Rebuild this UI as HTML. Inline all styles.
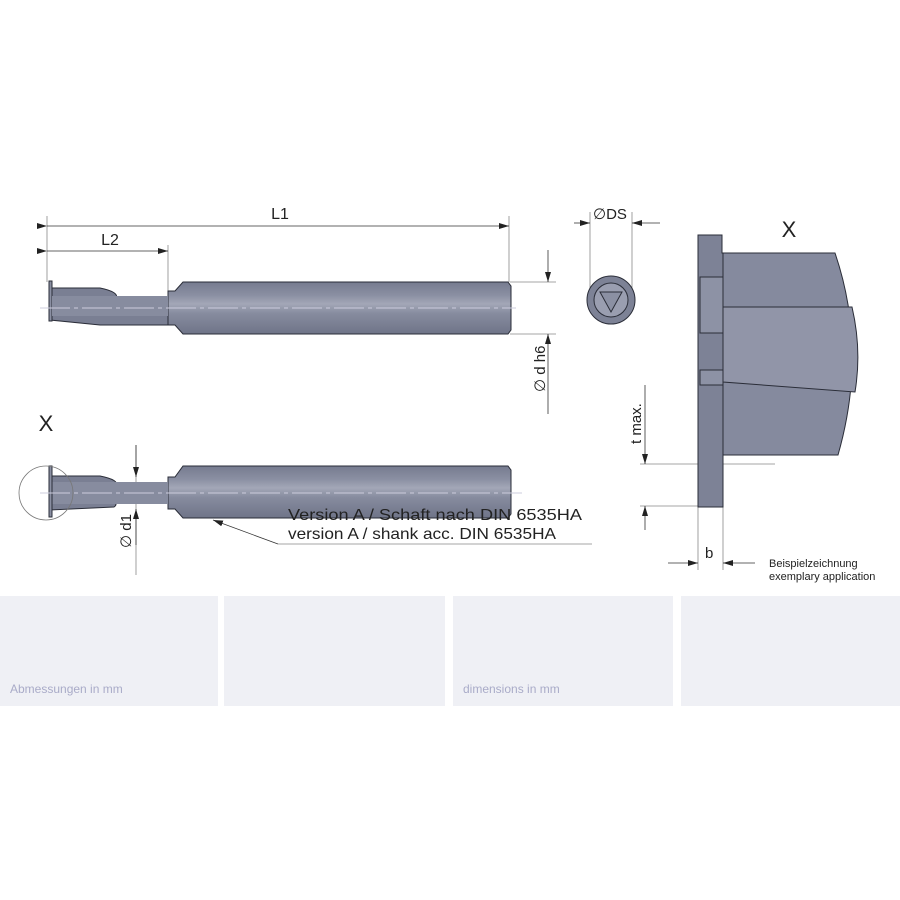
<!DOCTYPE html>
<html><head><meta charset="utf-8"><style>
html,body{margin:0;padding:0;background:#fff;}
.box{position:absolute;top:596px;height:110px;background:#eff0f5;}
.lbl{position:absolute;bottom:10px;left:10px;font:12px "Liberation Sans",sans-serif;color:#a9abc8;}
</style></head><body>
<svg width="900" height="900" style="position:absolute;left:0;top:0" xmlns="http://www.w3.org/2000/svg" font-family="Liberation Sans, sans-serif">
<defs>
<linearGradient id="sh" x1="0" y1="0" x2="0" y2="1">
<stop offset="0" stop-color="#767b8f"/><stop offset="0.25" stop-color="#8a8fa2"/><stop offset="0.42" stop-color="#a3a7b7"/><stop offset="0.6" stop-color="#878c9f"/><stop offset="1" stop-color="#6f7488"/></linearGradient>
<marker id="a" markerWidth="10" markerHeight="6" refX="10" refY="3" orient="auto" markerUnits="userSpaceOnUse"><path d="M0,0 L10,3 L0,6z" fill="#222"/></marker>
</defs>
<g stroke="#888" stroke-width="0.8" fill="none">
<line x1="47" y1="216" x2="47" y2="282"/><line x1="509" y1="216" x2="509" y2="282"/><line x1="168" y1="245" x2="168" y2="291"/>
<line x1="510" y1="282" x2="556" y2="282"/><line x1="510" y1="334" x2="556" y2="334"/>
<line x1="590" y1="212" x2="590" y2="290"/><line x1="632" y1="212" x2="632" y2="290"/>
<line x1="136" y1="445" x2="136" y2="575"/>
<line x1="723" y1="464" x2="775" y2="464"/><line x1="640" y1="464" x2="698" y2="464"/><line x1="640" y1="506" x2="698" y2="506"/>
<line x1="698" y1="507" x2="698" y2="570"/><line x1="723" y1="507" x2="723" y2="570"/>
<line x1="278" y1="544" x2="592" y2="544"/>
</g>
<g stroke="#333" stroke-width="0.8" fill="none">
<line x1="47" y1="226" x2="509" y2="226" marker-start="url(#a)" marker-end="url(#a)"/>
<line x1="47" y1="251" x2="168" y2="251" marker-start="url(#a)" marker-end="url(#a)"/>
<line x1="548" y1="250" x2="548" y2="282" marker-end="url(#a)"/>
<line x1="548" y1="414" x2="548" y2="334" marker-end="url(#a)"/>
<line x1="136" y1="445" x2="136" y2="477" marker-end="url(#a)"/>
<line x1="136" y1="545" x2="136" y2="509" marker-end="url(#a)"/>
<line x1="278" y1="544" x2="213" y2="520" marker-end="url(#a)"/>
<line x1="574" y1="223" x2="590" y2="223" marker-end="url(#a)"/>
<line x1="660" y1="223" x2="632" y2="223" marker-end="url(#a)"/>
<line x1="645" y1="385" x2="645" y2="464" marker-end="url(#a)"/>
<line x1="645" y1="530" x2="645" y2="506" marker-end="url(#a)"/>
<line x1="668" y1="563" x2="698" y2="563" marker-end="url(#a)"/>
<line x1="755" y1="563" x2="723" y2="563" marker-end="url(#a)"/>
</g>
<g stroke="#2a2d38" stroke-width="1">
<path d="M168,291 L175,291 L183,282 L508,282 L511,286 L511,330 L508,334 L183,334 L175,325 L168,325z" fill="url(#sh)"/>
<path d="M50,288 L100,288 Q120,292 116,299 Q108,306 50,306z M50,311 L120,311 L168,313 L168,325 L100,325 L50,320z" fill="#7a7f93"/>
<rect x="49" y="281" width="3" height="40" fill="#8a8fa2"/>
<rect x="52" y="296" width="116" height="20" fill="#878c9f" stroke="none"/>
</g>
<line x1="40" y1="308" x2="516" y2="308" stroke="#ccd" stroke-width="1" stroke-dasharray="30,4,4,4"/>
<g stroke="#2a2d38" stroke-width="1">
<path d="M168,477 L175,477 L183,466 L508,466 L511,470 L511,514 L508,518 L183,518 L175,509 L168,509z" fill="url(#sh)"/>
<path d="M50,476 L100,476 Q120,480 116,486 Q108,490 50,490z M50,497 L108,497 Q120,503 114,507 L50,510z" fill="#7a7f93"/>
<rect x="52" y="482" width="116" height="22" fill="#878c9f" stroke="none"/>
<rect x="49" y="466" width="3" height="51" fill="#8a8fa2"/>
</g>
<line x1="40" y1="493" x2="522" y2="493" stroke="#ccd" stroke-width="1" stroke-dasharray="30,4,4,4"/>
<circle cx="46" cy="493" r="27" fill="none" stroke="#777" stroke-width="0.8"/>
<circle cx="611" cy="300" r="24" fill="#7d8296" stroke="#2a2d38"/>
<circle cx="611" cy="300" r="17" fill="#9a9eb0" stroke="#2a2d38"/>
<path d="M600,292 L622,292 L611,312z" fill="#8b90a3" stroke="#2a2d38"/>
<g stroke="#2a2d38" stroke-width="1">
<path d="M723,253 L835,253 Q868,350 838,455 L723,455z" fill="#858a9e"/>
<path d="M723,307 L852,307 Q862,350 855,392 L723,382z" fill="#9195a8"/>
<path d="M698,235 L722,235 L722,253 L723,253 L723,507 L698,507z" fill="#7d8296"/>
<rect x="700" y="277" width="23" height="56" fill="#8d92a5"/>
<rect x="700" y="370" width="23" height="15" fill="#8d92a5"/>
</g>
<g fill="#222">
<text x="280" y="219" font-size="16" text-anchor="middle">L1</text>
<text x="110" y="245" font-size="16" text-anchor="middle">L2</text>
<text x="46" y="431" font-size="22" text-anchor="middle">X</text>
<text x="789" y="237" font-size="22" text-anchor="middle">X</text>
<text x="593" y="219" font-size="15">∅DS</text>
<text x="288" y="520" font-size="16" textLength="294" lengthAdjust="spacingAndGlyphs">Version A / Schaft nach DIN 6535HA</text>
<text x="288" y="539" font-size="16" textLength="268" lengthAdjust="spacingAndGlyphs">version A / shank acc. DIN 6535HA</text>
<text transform="translate(545,392) rotate(-90)" font-size="15">∅ d h6</text>
<text transform="translate(131,548) rotate(-90)" font-size="15">∅ d1</text>
<text transform="translate(641,444) rotate(-90)" font-size="15">t max.</text>
<text x="705" y="558" font-size="15">b</text>
<text x="769" y="567" font-size="11">Beispielzeichnung</text>
<text x="769" y="580" font-size="11">exemplary application</text>
</g>
</svg>
<div class="box" style="left:0;width:218px"><span class="lbl">Abmessungen in mm</span></div>
<div class="box" style="left:224px;width:221px"></div>
<div class="box" style="left:453px;width:220px"><span class="lbl">dimensions in mm</span></div>
<div class="box" style="left:681px;width:219px"></div>
</body></html>
